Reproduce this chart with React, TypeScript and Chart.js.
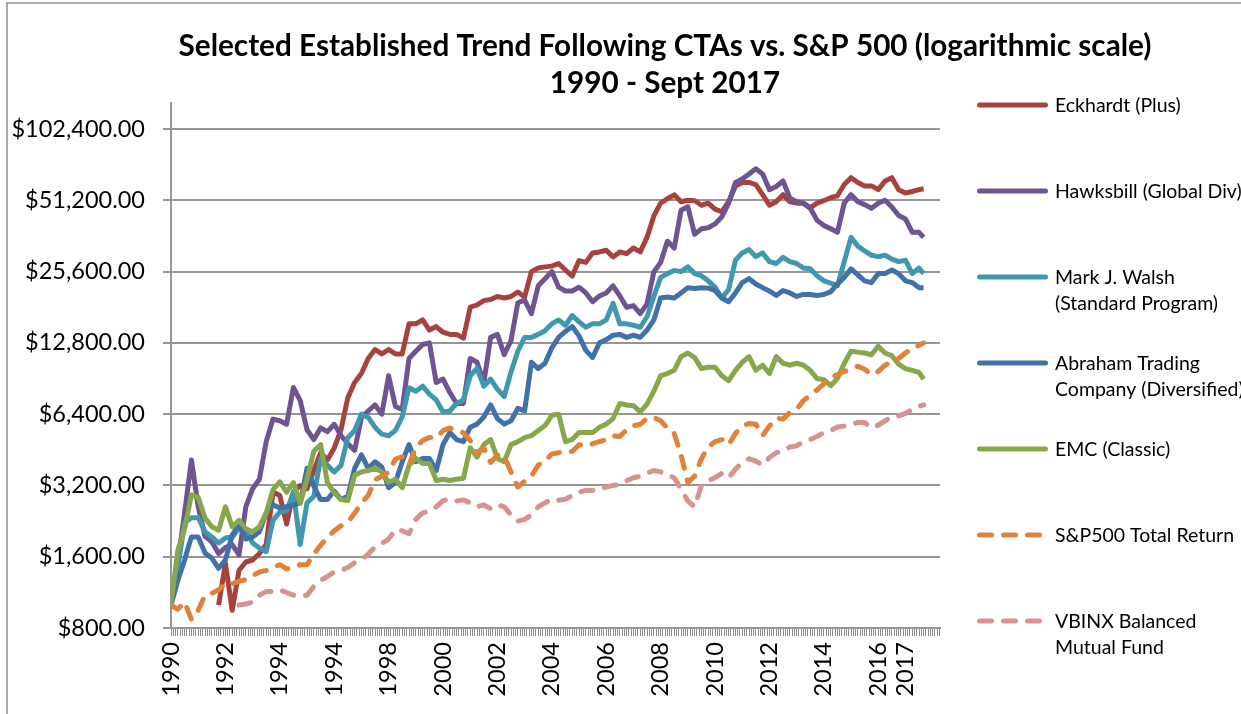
import React, { useEffect, useRef } from 'react';
import { Chart, registerables } from 'chart.js';

Chart.register(...registerables);

// Quarterly observation dates (decimal years), Jan 1990 ... Jul 2017, plus Sept 2017
const quarterDates: number[] = Array.from({ length: 111 }, (_, i) => 1990 + i / 4).concat([2017 + 8 / 12]);

const seriesNames = [
  'Eckhardt (Plus)',
  'Hawksbill (Global Div)',
  'Mark J. Walsh (Standard Program)',
  'Abraham Trading Company (Diversified)',
  'EMC (Classic)',
  'S&P500 Total Return',
  'VBINX Balanced Mutual Fund',
];

const legendLines = [
  ['Eckhardt (Plus)'],
  ['Hawksbill (Global Div)'],
  ['Mark J. Walsh', '(Standard Program)'],
  ['Abraham Trading', 'Company (Diversified)'],
  ['EMC (Classic)'],
  ['S&P500 Total Return'],
  ['VBINX Balanced', 'Mutual Fund'],
];

const titleLines = ['Selected Established Trend Following CTAs vs. S&P 500 (logarithmic scale)', '1990 - Sept 2017'];

const eckhardt: (number | null)[] = [
  null, null, null, null,
  null, null, null, 1000,
  1500, 950, 1400, 1520,
  1550, 1650, 1800, 3000,
  2900, 2200, 3000, 3200,
  3100, 3700, 4400, 4100,
  4600, 5500, 7500, 8700,
  9500, 11000, 12000, 11500,
  12000, 11500, 11500, 15400,
  15400, 16000, 14500, 15000,
  14200, 13900, 13900, 13400,
  18100, 18500, 19300, 19500,
  20100, 19800, 20100, 21000,
  20000, 25600, 26500, 26800,
  27000, 27700, 26000, 24500,
  28500, 28000, 30700, 31000,
  31500, 29500, 31000, 30500,
  32200, 31000, 35700, 44000,
  49800, 52000, 54000, 50500,
  51200, 51000, 48800, 49800,
  47000, 45800, 50500, 58900,
  60900, 60900, 59700, 54100,
  48800, 50500, 54100, 50500,
  49800, 49800, 47600, 49800,
  51000, 52500, 53500, 59700,
  63800, 60900, 58900, 58900,
  56800, 61800, 63800, 56800,
  55000, 55800, 56800, 57300,
];

const hawksbill: (number | null)[] = [
  1000, 1500, 2450, 4100,
  2600, 1950, 1850, 1650,
  1750, 1800, 1630, 2600,
  3100, 3400, 4900, 6100,
  6000, 5800, 8300, 7300,
  5500, 5000, 5600, 5400,
  5800, 5200, 4800, 4500,
  6200, 6600, 7000, 6400,
  9300, 6900, 6700, 11000,
  11800, 12600, 12800, 8700,
  9000, 7900, 7100, 7100,
  11000, 10600, 8700, 13500,
  13900, 11400, 13100, 18900,
  19400, 17000, 22300, 23900,
  25600, 22000, 21200, 21200,
  22000, 20800, 19100, 20200,
  20800, 22300, 20200, 18100,
  18400, 17000, 18700, 25500,
  28000, 34400, 32200, 46500,
  48100, 36800, 38800, 39200,
  40700, 43600, 49800, 60900,
  63000, 66200, 69600, 66200,
  56800, 58600, 61800, 52300,
  50500, 49800, 47400, 42200,
  40100, 38800, 37500, 49800,
  54100, 50500, 49100, 47400,
  49800, 51200, 48000, 44200,
  42700, 37500, 37500, 35700,
];

const walsh: (number | null)[] = [
  1000, 1450, 2220, 2340,
  2340, 2040, 1940, 1830,
  1920, 1940, 2110, 2080,
  1830, 1740, 1680, 2280,
  2470, 2500, 2990, 1800,
  2700, 2880, 4160, 3890,
  3650, 3890, 5090, 5460,
  6400, 6200, 5640, 5270,
  5190, 5460, 6230, 8270,
  8000, 8400, 7770, 7350,
  6540, 6600, 7100, 7350,
  9300, 10000, 8400, 9000,
  8150, 7600, 9650, 11800,
  13500, 13500, 13900, 14400,
  15400, 16000, 15200, 16700,
  15700, 14900, 15400, 15400,
  16000, 18800, 15400, 15400,
  15200, 14900, 16500, 20100,
  24200, 25100, 25900, 25600,
  26800, 25100, 24600, 23400,
  22000, 19800, 21500, 28600,
  30700, 31700, 29600, 30700,
  28200, 27700, 29400, 28200,
  27700, 26500, 26300, 24600,
  23400, 22900, 22300, 28200,
  35700, 32800, 31300, 30000,
  29600, 30000, 28900, 28200,
  28600, 25100, 26500, 25100,
];

const abraham: (number | null)[] = [
  1000, 1270, 1550, 1940,
  1940, 1660, 1580, 1430,
  1550, 1970, 2200, 1900,
  1940, 2040, 2450, 2650,
  2570, 2600, 2650, 2700,
  3780, 3180, 2790, 2790,
  3030, 2790, 2880, 3780,
  4310, 3780, 4030, 3830,
  3130, 3300, 4030, 4760,
  4030, 4160, 4160, 3700,
  4760, 5350, 5000, 4900,
  5640, 5810, 6230, 7000,
  6130, 5810, 6000, 6770,
  6600, 10600, 9970, 10500,
  12200, 13500, 14300, 15000,
  13700, 11900, 11100, 12800,
  13200, 13800, 13900, 13500,
  13800, 13500, 14500, 16000,
  19800, 20000, 19800, 20800,
  21900, 21700, 21900, 21800,
  21300, 19800, 19100, 20800,
  23000, 23900, 22700, 21900,
  21200, 20300, 21300, 20800,
  20100, 20500, 20500, 20300,
  20500, 21000, 22700, 24200,
  26300, 24800, 23400, 23000,
  25100, 25100, 26000, 25100,
  23400, 23000, 21900, 21900,
];

const emc: (number | null)[] = [
  1000, 1700, 2100, 2920,
  2850, 2330, 2140, 2070,
  2600, 2140, 2280, 2100,
  2040, 2140, 2450, 3070,
  3310, 3000, 3290, 2690,
  3400, 4460, 4760, 3300,
  2980, 2790, 2760, 3530,
  3650, 3700, 3780, 3650,
  3300, 3400, 3130, 3890,
  4160, 3960, 3960, 3360,
  3400, 3360, 3400, 3430,
  4620, 4220, 4760, 5000,
  4160, 4030, 4760, 4900,
  5090, 5190, 5460, 5730,
  6330, 6400, 4900, 5000,
  5350, 5350, 5350, 5640,
  5810, 6130, 7100, 7000,
  6950, 6540, 7050, 8000,
  9300, 9500, 9800, 11200,
  11600, 11100, 9970, 10100,
  10100, 9300, 8860, 9800,
  10600, 11200, 9800, 10300,
  9500, 11200, 10500, 10300,
  10500, 10300, 9800, 9050,
  8950, 8440, 9050, 10500,
  11800, 11700, 11600, 11400,
  12400, 11600, 11300, 10400,
  9970, 9800, 9600, 9000,
];

const sp500: (number | null)[] = [
  1000, 960, 1030, 870,
  950, 1100, 1120, 1160,
  1230, 1230, 1260, 1280,
  1330, 1380, 1400, 1440,
  1480, 1420, 1440, 1480,
  1480, 1640, 1790, 1930,
  2060, 2160, 2240, 2440,
  2700, 2900, 3380, 3500,
  3640, 4130, 4230, 3900,
  4650, 4950, 5100, 5100,
  5450, 5600, 5450, 5350,
  4950, 4400, 4600, 4000,
  4300, 4250, 3650, 3150,
  3330, 3500, 3900, 4050,
  4350, 4400, 4430, 4450,
  4750, 4700, 4800, 4900,
  5000, 5180, 5150, 5500,
  5720, 5800, 6150, 6200,
  6000, 5600, 5300, 4300,
  3300, 3500, 4150, 4650,
  4900, 5000, 4750, 5300,
  5700, 5850, 5800, 5200,
  5700, 6150, 6100, 6500,
  6700, 7300, 7700, 8100,
  8600, 9100, 9400, 9700,
  9900, 10200, 9900, 9400,
  9700, 10300, 10700, 11000,
  11600, 12100, 12500, 12800,
];

const vbinx: (number | null)[] = [
  null, null, null, null,
  null, null, null, null,
  null, null, 1000, 1010,
  1030, 1100, 1140, 1140,
  1160, 1130, 1100, 1090,
  1100, 1200, 1270, 1320,
  1380, 1400, 1440, 1510,
  1560, 1640, 1760, 1820,
  1900, 2080, 2060, 2000,
  2300, 2450, 2500, 2600,
  2760, 2800, 2750, 2780,
  2700, 2600, 2650, 2550,
  2650, 2600, 2400, 2260,
  2300, 2400, 2600, 2700,
  2800, 2770, 2800, 2900,
  3000, 3050, 3050, 3080,
  3150, 3200, 3230, 3350,
  3450, 3500, 3600, 3700,
  3650, 3550, 3450, 3100,
  2750, 2600, 3200, 3350,
  3450, 3600, 3450, 3750,
  4000, 4150, 4050, 3900,
  4200, 4400, 4500, 4650,
  4700, 4900, 5000, 5150,
  5350, 5450, 5650, 5700,
  5800, 5900, 5900, 5600,
  5750, 6000, 6250, 6300,
  6450, 6700, 6900, 7000,
];

const seriesValues = [eckhardt, hawksbill, walsh, abraham, emc, sp500, vbinx];
const seriesColors = ['#A7423F', '#6E5493', '#3F98AF', '#4270A9', '#88A74B', '#E0823A', '#D69391'];
const seriesDashed = [false, false, false, false, false, true, true];

const xTickYears = [1990, 1992, 1994, 1996, 1998, 2000, 2002, 2004, 2006, 2008, 2010, 2012, 2014, 2016, 2017];
const xTickLabels = ['1990', '1992', '1994', '1994', '1998', '2000', '2002', '2004', '2006', '2008', '2010', '2012', '2014', '2016', '2017'];
const yTickValues = [800, 1600, 3200, 6400, 12800, 25600, 51200, 102400];
const yTickLabels = ['$800.00', '$1,600.00', '$3,200.00', '$6,400.00', '$12,800.00', '$25,600.00', '$51,200.00', '$102,400.00'];

const FONT = 'Lato, "Open Sans", sans-serif';

const decorPlugin = {
  id: 'decor',
  afterDraw(chart: any) {
    const ctx: CanvasRenderingContext2D = chart.ctx;
    ctx.save();
    // outer frame
    ctx.strokeStyle = '#8f8f8f';
    ctx.lineWidth = 1.5;
    ctx.strokeRect(7, 3, 1300, 800);
    // title
    ctx.fillStyle = '#000';
    ctx.font = `bold 29.7px ${FONT}`;
    ctx.textAlign = 'center';
    ctx.textBaseline = 'alphabetic';
    ctx.fillText(titleLines[0], 665, 56);
    ctx.fillText(titleLines[1], 665, 93);
    // legend
    ctx.textAlign = 'left';
    ctx.textBaseline = 'middle';
    ctx.font = `19.5px ${FONT}`;
    legendLines.forEach((lines, i) => {
      const y = 105 + i * 86;
      ctx.strokeStyle = seriesColors[i];
      ctx.lineWidth = 5;
      ctx.lineCap = 'round';
      ctx.setLineDash(seriesDashed[i] ? [12, 12] : []);
      ctx.beginPath();
      ctx.moveTo(979.5, y);
      ctx.lineTo(seriesDashed[i] ? 1042 : 1045.5, y);
      ctx.stroke();
      ctx.setLineDash([]);
      ctx.fillStyle = '#000';
      lines.forEach((t, j) => ctx.fillText(t, 1055, y + 1 + j * 26));
    });
    ctx.restore();
  },
};

export default function App() {
  const canvasRef = useRef<HTMLCanvasElement>(null);

  useEffect(() => {
    let chart: Chart | null = null;
    let cancelled = false;
    const build = () => {
      if (cancelled || !canvasRef.current) return;
      const datasets = seriesNames.map((name, i) => ({
        label: name,
        data: quarterDates.map((x, k) => ({ x, y: seriesValues[i][k] })),
        borderColor: seriesColors[i],
        backgroundColor: seriesColors[i],
        borderWidth: 5,
        borderDash: seriesDashed[i] ? [12, 12] : [],
        borderCapStyle: seriesDashed[i] ? 'round' : 'butt',
        borderJoinStyle: 'round',
        pointRadius: 0,
        tension: 0,
        spanGaps: false,
        fill: false,
        order: seriesNames.length - 1 - i,
      }));
      chart = new Chart(canvasRef.current, {
        type: 'line',
        data: { datasets } as any,
        options: {
          animation: false,
          responsive: false,
          devicePixelRatio: 1,
          layout: { padding: { left: 0, top: 103, right: 301, bottom: 0 } },
          plugins: { legend: { display: false }, title: { display: false }, tooltip: { enabled: false } },
          scales: {
            x: {
              type: 'linear',
              min: 1990,
              max: 2018.27,
              afterBuildTicks: (scale: any) => {
                const t = [];
                for (let m = 0; m <= 339; m++) t.push({ value: 1990 + m / 12 });
                scale.ticks = t;
              },
              afterFit: (scale: any) => {
                scale.height = 86;
              },
              ticks: {
                autoSkip: false,
                minRotation: 90,
                maxRotation: 90,
                padding: 6,
                color: '#000',
                font: { family: FONT, size: 23.5 },
                callback: (v: any) => {
                  const idx = xTickYears.findIndex((y) => Math.abs(y - Number(v)) < 1e-6);
                  return idx >= 0 ? xTickLabels[idx] : '';
                },
              },
              grid: { drawOnChartArea: false, drawTicks: true, tickLength: 8, color: '#8c8c8c', lineWidth: 1 },
              border: { display: true, color: '#969696', width: 2 },
            },
            y: {
              type: 'logarithmic',
              min: 800,
              max: 131900,
              afterBuildTicks: (scale: any) => {
                scale.ticks = yTickValues.map((v) => ({ value: v }));
              },
              afterFit: (scale: any) => {
                scale.width = 171;
              },
              ticks: {
                autoSkip: false,
                padding: 18,
                color: '#000',
                font: { family: FONT, size: 23.5 },
                callback: (v: any) => {
                  const idx = yTickValues.indexOf(Number(v));
                  return idx >= 0 ? yTickLabels[idx] : '';
                },
              },
              grid: { color: '#969696', lineWidth: 2, tickLength: 8, drawTicks: true },
              border: { display: true, color: '#969696', width: 2 },
            },
          },
        } as any,
        plugins: [decorPlugin],
      });
    };
    const fontsApi: any = (document as any).fonts;
    if (fontsApi && fontsApi.load) {
      Promise.all([fontsApi.load('24px Lato'), fontsApi.load('bold 24px Lato')]).then(build, build);
    } else {
      build();
    }
    return () => {
      cancelled = true;
      if (chart) chart.destroy();
    };
  }, []);

  return (
    <div style={{ position: 'absolute', left: 0, top: 0, width: 1241, height: 714, background: '#fff' }}>
      <canvas ref={canvasRef} width={1241} height={714} style={{ display: 'block', width: 1241, height: 714 }} />
    </div>
  );
}
